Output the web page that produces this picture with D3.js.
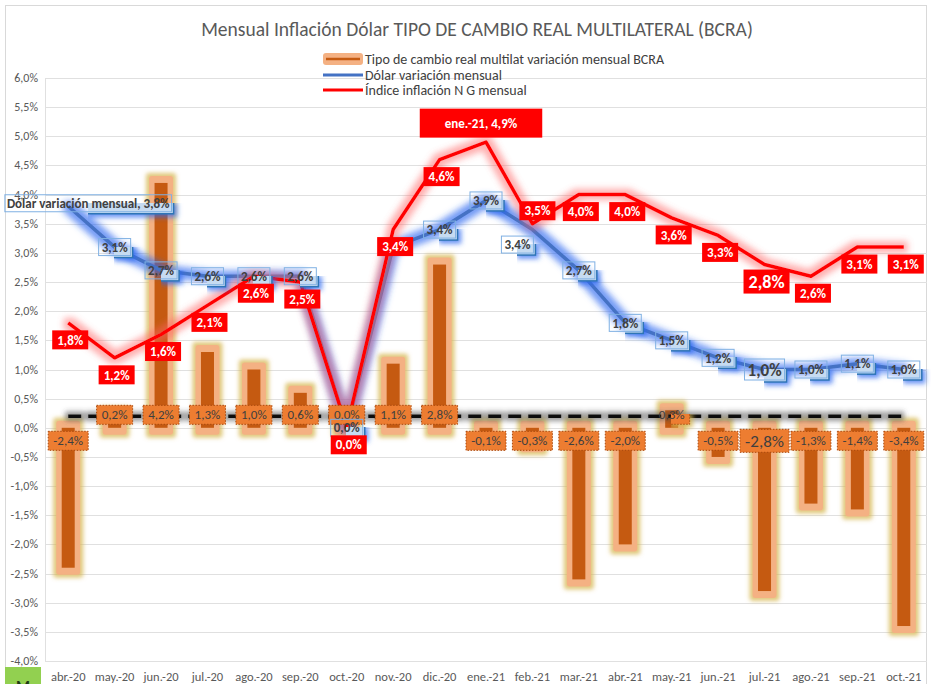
<!DOCTYPE html>
<html>
<head>
<meta charset="utf-8">
<script src="https://cdnjs.cloudflare.com/ajax/libs/d3/7.8.5/d3.min.js"></script>
<style>
  body { margin: 0; background: #fff; }
  text { font-family: Carlito, Lato, "Liberation Sans Narrow", sans-serif; }
</style>
</head>
<body>
<div id="viz"></div>
<script>
// Data
const months = ["abr.-20", "may.-20", "jun.-20", "jul.-20", "ago.-20", "sep.-20", "oct.-20", "nov.-20", "dic.-20",
    "ene.-21", "feb.-21", "mar.-21", "abr.-21", "may.-21", "jun.-21", "jul.-21", "ago.-21", "sep.-21", "oct.-21"];
const tcrm = [-2.4, 0.2, 4.2, 1.3, 1.0, 0.6, 0.0, 1.1, 2.8, -0.1, -0.3, -2.6, -2.0, 0.3, -0.5, -2.8, -1.3, -1.4, -3.4];
const dolar = [3.8, 3.1, 2.7, 2.6, 2.6, 2.6, 0.0, 3.1, 3.4, 3.9, 3.4, 2.7, 1.8, 1.5, 1.2, 1.0, 1.0, 1.1, 1.0];
const inflacion = [1.8, 1.2, 1.6, 2.1, 2.6, 2.5, 0.0, 3.4, 4.6, 4.9, 3.5, 4.0, 4.0, 3.6, 3.3, 2.8, 2.6, 3.1, 3.1];
const referencia = [0.2, 0.2, 0.2, 0.2, 0.2, 0.2, 0.2, 0.2, 0.2, 0.2, 0.2, 0.2, 0.2, 0.2, 0.2, 0.2, 0.2, 0.2, 0.2];
const seriesNames = ["Tipo de cambio real multilat variación mensual BCRA", "Dólar variación mensual", "Índice inflación N G mensual"];
const title = "Mensual Inflación Dólar TIPO DE CAMBIO REAL MULTILATERAL (BCRA)";

const W = 931, H = 684;
const plot = { left: 45, right: 927, top: 78, bottom: 661 };

const svg = d3.select("#viz").append("svg")
    .attr("width", W)
    .attr("height", H);

// glow filters
const defs = svg.append("defs");
function glow(id, color, opacity, dilate, blur) {
    const f = defs.append("filter").attr("id", id)
        .attr("filterUnits", "userSpaceOnUse")
        .attr("x", 0).attr("y", 0).attr("width", W).attr("height", H);
    f.append("feMorphology").attr("in", "SourceAlpha").attr("operator", "dilate").attr("radius", dilate).attr("result", "d");
    f.append("feGaussianBlur").attr("in", "d").attr("stdDeviation", blur).attr("result", "b");
    f.append("feFlood").attr("flood-color", color).attr("flood-opacity", opacity);
    f.append("feComposite").attr("in2", "b").attr("operator", "in").attr("result", "g");
    const m = f.append("feMerge");
    m.append("feMergeNode").attr("in", "g");
    m.append("feMergeNode").attr("in", "SourceGraphic");
}
glow("glowRed", "#ff6060", 0.5, 4, 3);
glow("glowBlue", "#2a66f0", 0.65, 4, 3);
glow("glowBox", "#2a66f0", 0.7, 3, 2.5);
glow("glowBar", "#d6b64e", 0.75, 3, 2.2);
glow("glowGrey", "#444", 0.55, 3, 2.5);

// chart border
svg.append("rect")
    .attr("x", 5.5).attr("y", 5.5)
    .attr("width", 921).attr("height", 700)
    .attr("fill", "none")
    .attr("stroke", "#d9d9d9");

// scales
const x = d3.scaleBand().domain(months).range([plot.left, plot.right]);
const y = d3.scaleLinear().domain([-4, 6]).range([plot.bottom, plot.top]);
const cx = i => x(months[i]) + x.bandwidth() / 2;
const fmt = v => d3.format(".1f")(v).replace(".", ",").replace("−", "-") + "%";

// gridlines + y axis
const yTicks = y.ticks(20);
svg.append("g").selectAll("line")
    .data(yTicks).enter().append("line")
    .attr("x1", plot.left).attr("x2", plot.right)
    .attr("y1", d => Math.round(y(d)) + 0.5).attr("y2", d => Math.round(y(d)) + 0.5)
    .attr("stroke", "#e0e0e0");

svg.append("line")
    .attr("x1", plot.left + 0.5).attr("x2", plot.left + 0.5)
    .attr("y1", plot.top).attr("y2", plot.bottom)
    .attr("stroke", "#e0e0e0");

svg.append("g").selectAll("text")
    .data(yTicks).enter().append("text")
    .attr("x", 38).attr("y", d => y(d) + 4)
    .attr("text-anchor", "end")
    .attr("font-size", 12)
    .attr("fill", "#595959")
    .text(fmt);

// x axis labels
svg.append("g").selectAll("text")
    .data(months).enter().append("text")
    .attr("x", (d, i) => cx(i)).attr("y", 681)
    .attr("text-anchor", "middle")
    .attr("font-size", 12.5)
    .attr("fill", "#595959")
    .text(d => d);

// odd green cell in the corner
svg.append("rect").attr("x", 5).attr("y", 667).attr("width", 36).attr("height", 20).attr("fill", "#92d050");
svg.append("text").attr("x", 23).attr("y", 692).attr("text-anchor", "middle")
    .attr("font-size", 16).attr("font-weight", "bold").attr("fill", "#1e3a14").text("M");

// bars
const bars = svg.append("g");
tcrm.forEach((v, i) => {
    const y0 = y(0), y1 = y(v);
    const top = Math.min(y0, y1), h = Math.abs(y1 - y0);
    bars.append("rect")
        .attr("x", cx(i) - 12).attr("width", 24)
        .attr("y", top - 7).attr("height", h + 14)
        .attr("rx", 3)
        .attr("fill", "#f4b183")
        .attr("filter", "url(#glowBar)");
    bars.append("rect")
        .attr("x", cx(i) - 6.5).attr("width", 13)
        .attr("y", top).attr("height", h)
        .attr("fill", "#c55a11");
});

// dashed reference line
const line = d3.line().x((d, i) => cx(i)).y(d => y(d));
svg.append("path")
    .attr("d", line(referencia))
    .attr("fill", "none")
    .attr("stroke", "#111")
    .attr("stroke-width", 3.5)
    .attr("stroke-dasharray", "13,7")
    .attr("filter", "url(#glowGrey)");

// blue line
svg.append("path")
    .attr("d", line(dolar))
    .attr("fill", "none")
    .attr("stroke", "#4472c4")
    .attr("stroke-width", 3.5)
    .attr("stroke-linejoin", "round")
    .attr("filter", "url(#glowBlue)");

// red line
svg.append("path")
    .attr("d", line(inflacion))
    .attr("fill", "none")
    .attr("stroke", "#ff0000")
    .attr("stroke-width", 3.5)
    .attr("stroke-linejoin", "round")
    .attr("filter", "url(#glowRed)");

// label helper: box sized from the measured text
function labelBox(g, px, py, txt, fs, style, padX, padY) {
    padX = padX || 5; padY = padY || 4;
    const grp = g.append("g").attr("transform", `translate(${px},${py})`);
    const box = grp.append("rect");
    const t = grp.append("text").attr("y", fs * 0.36).attr("text-anchor", "middle")
        .attr("font-size", fs).attr("font-weight", "bold").text(txt);
    const bw = t.node().getComputedTextLength() + padX * 2;
    const bh = fs + padY * 2;
    box.attr("x", -bw / 2).attr("y", -bh / 2).attr("width", bw).attr("height", bh);
    if (style === "red") {
        box.attr("fill", "#ff0000");
        t.attr("fill", "#fff");
    } else if (style === "blue") {
        box.attr("fill", "#c6dbf1").attr("stroke", "#2e75b6").attr("stroke-width", 1.5)
            .attr("filter", "url(#glowBox)");
        grp.insert("rect", "text").attr("x", -bw / 2 + 2).attr("y", -bh / 2 + 2).attr("width", bw - 4).attr("height", bh - 4)
            .attr("fill", "none").attr("stroke", "#7fb0e3").attr("stroke-width", 1);
        t.attr("fill", "#404040");
    } else {
        box.attr("fill", "#ed7d31").attr("stroke", "#a9480c").attr("stroke-width", 1)
            .attr("stroke-dasharray", "1.5,1.5")
            .attr("filter", style === "orangeGlow" ? "url(#glowBar)" : null);
        t.attr("fill", "#3f3f3f").attr("font-weight", "normal");
    }
    return grp;
}

const labels = svg.append("g");
const big = 15; // jul.-21 labels are bigger

// bar labels
tcrm.forEach((v, i) => {
    const py = v >= 0 ? y(0) - 13 : y(0) + 13;
    const fs = i === big ? 17 : 13;
    labelBox(labels, cx(i), py, fmt(v), fs, i === 13 ? "orangeGlow" : "orange", 5, 3);
});

// blue labels
dolar.forEach((v, i) => {
    if (i === 7) return;
    if (i === 0) {
        labelBox(labels, cx(i) + 20, y(v) - 3, seriesNames[1] + ", " + fmt(v), 13, "blue", 4, 4);
        return;
    }
    let dx = 0, dy = 0;
    if (i === 10) { dx = -15; dy = 15; }
    labelBox(labels, cx(i) + dx, y(v) + dy, fmt(v), i === big ? 17 : 13, "blue", 5, 4);
});

// red labels
inflacion.forEach((v, i) => {
    if (i === 9) {
        labelBox(labels, cx(i) - 5, y(v) - 19, months[i] + ", " + fmt(v), 13, "red", 25, 8);
        return;
    }
    let dx = 2, dy = 17;
    if (i === 10) { dx = 5; dy = -13; }
    labelBox(labels, cx(i) + dx, y(v) + dy, fmt(v), i === big ? 18 : 13, "red", 5, 3);
});

// title
svg.append("text")
    .attr("x", 477).attr("y", 36)
    .attr("text-anchor", "middle")
    .attr("font-size", 19.5)
    .attr("fill", "#595959")
    .text(title);

// legend
const legend = svg.append("g").attr("transform", "translate(323,59)");
legend.append("rect").attr("x", 0).attr("y", -6).attr("width", 40).attr("height", 12).attr("rx", 3)
    .attr("fill", "#f4b183");
legend.append("line").attr("x1", 3).attr("x2", 37).attr("y1", 0).attr("y2", 0)
    .attr("stroke", "#c55a11").attr("stroke-width", 2.5);
legend.append("line").attr("x1", 0).attr("x2", 40).attr("y1", 16).attr("y2", 16)
    .attr("stroke", "#4472c4").attr("stroke-width", 3);
legend.append("line").attr("x1", 0).attr("x2", 40).attr("y1", 31).attr("y2", 31)
    .attr("stroke", "#ff0000").attr("stroke-width", 3);
legend.selectAll("text.lg")
    .data(seriesNames).enter().append("text")
    .attr("class", "lg")
    .attr("x", 42).attr("y", (d, i) => [0, 16, 31][i] + 5)
    .attr("font-size", 14)
    .attr("fill", "#404040")
    .text(d => d);
</script>
</body>
</html>
